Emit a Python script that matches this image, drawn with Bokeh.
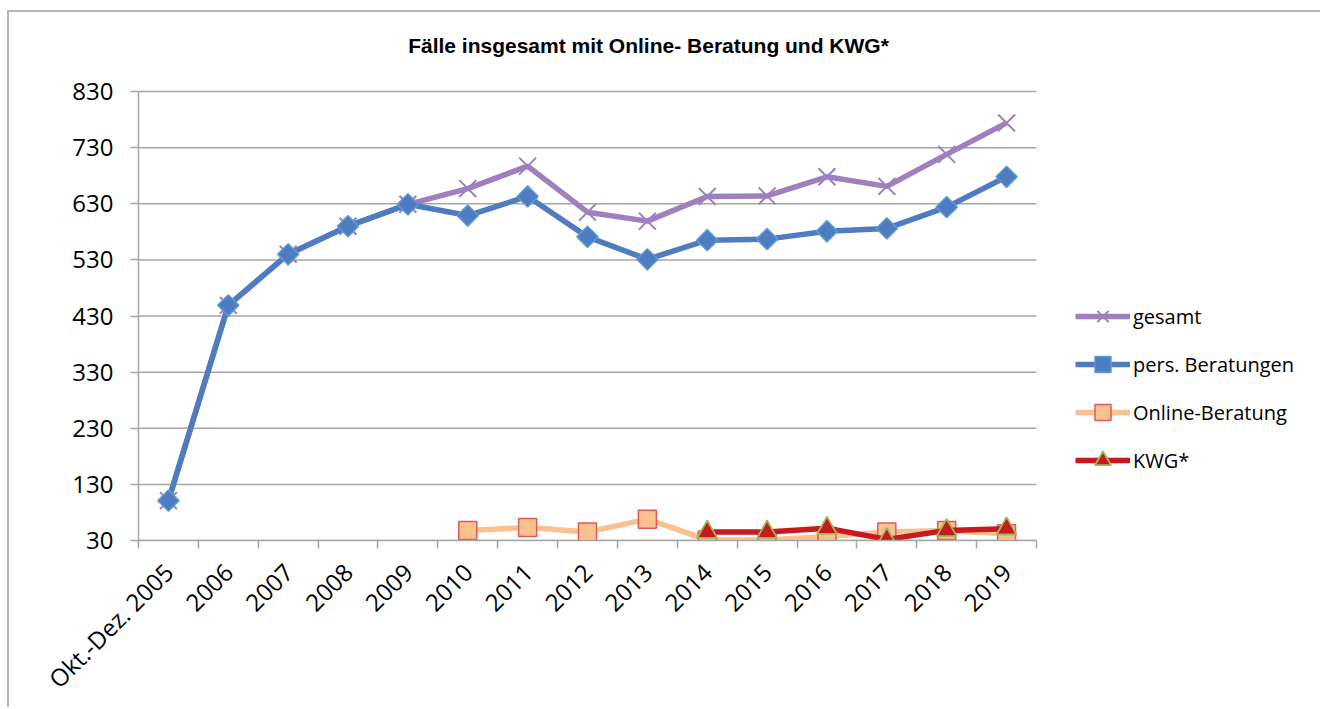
import math
from bokeh.plotting import figure
from bokeh.models import (Range1d, FixedTicker, Legend, LegendItem, ColumnDataSource, Label)
from bokeh.embed import file_html
from bokeh.resources import INLINE

categories = ["Okt.-Dez. 2005", "2006", "2007", "2008", "2009", "2010", "2011", "2012",
              "2013", "2014", "2015", "2016", "2017", "2018", "2019"]
gesamt = [101, 449, 540, 590, 629, 657, 697, 615, 599, 643, 644, 678, 661, 718, 774]
pers = [101, 449, 540, 590, 629, 609, 643, 571, 531, 565, 567, 581, 586, 624, 678]
online = [None, None, None, None, None, 48, 53, 45, 68, 31, 31, 37, 45, 48, 42]
kwg = [None, None, None, None, None, None, None, None, None, 45, 45, 52, 32, 48, 51]
y_ticks = [30, 130, 230, 330, 430, 530, 630, 730, 830]
title = "Fälle insgesamt mit Online- Beratung und KWG*"

n = len(categories)
xs = [i + 0.5 for i in range(n)]
y0, y1 = y_ticks[0], y_ticks[-1]

def clean(vals):
    return [v if v is not None else float("nan") for v in vals]

# layout (pixels)
W, H = 1313, 697
left, bottom = 129, 169
cat_w, cat_h = 898, 449            # pixel size of the category / value area
frame_w, frame_h = W - left, H - bottom
x_end = n * frame_w / cat_w        # frame extends right (legend) and up (title)
y_end = y0 + (y1 - y0) * frame_h / cat_h
px_x = n / cat_w                   # data units per pixel
px_y = (y1 - y0) / cat_h

p = figure(width=W, height=H, output_backend="svg", toolbar_location=None,
           x_range=Range1d(0, x_end), y_range=Range1d(y0, y_end),
           min_border_left=left, min_border_right=0, min_border_top=0, min_border_bottom=bottom)
p.margin = (12, 0, 0, 9)
p.styles = {"box-shadow": "-2px -2px 0 0 #B4B4B4"}
p.outline_line_color = None

# title as a label placed above the value area
p.add_layout(Label(x=510 * px_x, y=y0 + 495 * px_y, text=title, text_align="center",
                   text_baseline="middle", text_font="Liberation Sans", text_font_size="21px",
                   text_font_style="bold", text_color="#000000"))

# axes
p.xaxis.ticker = FixedTicker(ticks=xs, minor_ticks=list(range(n + 1)))
p.xaxis.bounds = (0, n)
p.xaxis.major_label_overrides = {x: c for x, c in zip(xs, categories)}
p.xaxis.major_tick_out = 0
p.xaxis.major_tick_in = 0
p.xaxis.minor_tick_out = 8
p.xaxis.minor_tick_in = 0
p.xaxis.minor_tick_line_color = "#A6A6A6"
p.xaxis.minor_tick_line_width = 1.5
p.xaxis.major_label_orientation = math.pi / 4
p.xaxis.major_label_text_font = "Open Sans"
p.xaxis.major_label_text_font_size = "24px"
p.xaxis.major_label_text_color = "#000000"
p.xaxis.major_label_standoff = 19
p.xaxis.axis_line_color = "#A6A6A6"
p.xaxis.axis_line_width = 1.5

p.yaxis.ticker = FixedTicker(ticks=y_ticks)
p.yaxis.bounds = (y0, y1)
p.yaxis.minor_tick_line_color = None
p.yaxis.major_tick_out = 8
p.yaxis.major_tick_in = 0
p.yaxis.major_tick_line_color = "#A6A6A6"
p.yaxis.major_tick_line_width = 1.5
p.yaxis.axis_line_color = "#A6A6A6"
p.yaxis.axis_line_width = 1.5
p.yaxis.major_label_text_font = "Open Sans"
p.yaxis.major_label_text_font_size = "24px"
p.yaxis.major_label_text_color = "#000000"
p.yaxis.major_label_standoff = 17

p.xgrid.grid_line_color = None
p.ygrid.grid_line_color = None
# horizontal gridlines limited to the category area
p.segment(x0=[0] * len(y_ticks), x1=[n] * len(y_ticks), y0=y_ticks, y1=y_ticks,
          line_color="#A6A6A6", line_width=1.5)

src = ColumnDataSource(dict(x=xs, gesamt=gesamt, pers=pers, online=clean(online), kwg=clean(kwg)))

l1 = p.line("x", "gesamt", source=src, line_color="#9E80BE", line_width=5.5)
m1 = p.scatter("x", "gesamt", source=src, marker="x", size=24, line_color="#9E80BE", line_width=2)

l2 = p.line("x", "pers", source=src, line_color="#4F7CC0", line_width=5.5)
m2 = p.scatter("x", "pers", source=src, marker="square", angle=math.pi / 4, size=15,
               fill_color="#4F7CC0", line_color="#5B9BD5", line_width=1.5)

l3 = p.line("x", "online", source=src, line_color="#FAC090", line_width=5.5)
m3 = p.scatter("x", "online", source=src, marker="square", size=18, fill_color="#FAC090",
               line_color="#E0595A", line_width=1.5)

l4 = p.line("x", "kwg", source=src, line_color="#C8191E", line_width=5.5)
m4 = p.scatter("x", "kwg", source=src, marker="triangle", size=20, fill_color="#C8191E",
               line_color="#9BBB59", line_width=1.8)

legend = Legend(items=[
    LegendItem(label="gesamt", renderers=[l1, m1]),
    LegendItem(label="pers. Beratungen", renderers=[l2, m2]),
    LegendItem(label="Online-Beratung", renderers=[l3, m3]),
    LegendItem(label="KWG*", renderers=[l4, m4]),
], location=(cat_w + 39, 60))
legend.background_fill_alpha = 0
legend.border_line_color = None
legend.label_text_font = "Open Sans"
legend.label_text_font_size = "20px"
legend.label_text_color = "#000000"
legend.glyph_width = 55
legend.glyph_height = 40
legend.label_height = 22
legend.label_standoff = 3
legend.spacing = 8
legend.padding = 0
legend.margin = 0
p.add_layout(legend, "center")

open("out.html", "w").write(file_html(p, INLINE))
